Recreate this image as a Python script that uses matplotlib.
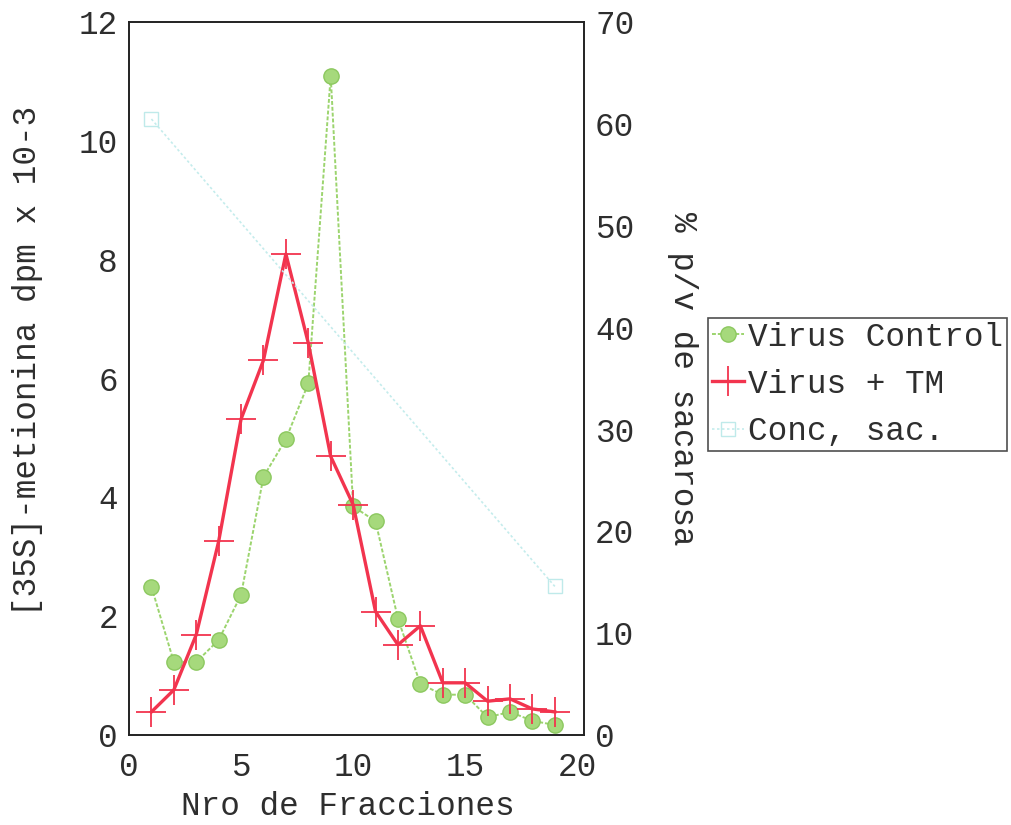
import matplotlib
matplotlib.use("Agg")
import matplotlib.pyplot as plt

# fraction numbers
fracciones = list(range(1, 20))
# [35S]-metionina dpm x 10-3
virus_control = [2.5, 1.23, 1.23, 1.6, 2.36, 4.35, 4.98, 5.92, 11.1, 3.85,
                 3.6, 1.96, 0.86, 0.68, 0.68, 0.3, 0.39, 0.24, 0.17]
virus_tm = [0.39, 0.76, 1.69, 3.26, 5.32, 6.31, 8.1, 6.6, 4.69, 3.88,
            2.08, 1.52, 1.84, 0.88, 0.88, 0.57, 0.61, 0.44, 0.39]
# sucrose gradient (% p/v), right axis
conc_x = [1, 19]
conc_sac = [60.5, 14.6]

plt.rcParams["font.family"] = ["Liberation Mono", "DejaVu Sans Mono"]
plt.rcParams["text.color"] = "#2e2e2e"
plt.rcParams["axes.labelcolor"] = "#2e2e2e"
FS = 23.5

fig = plt.figure(figsize=(10.11, 8.25), dpi=100)
ax = fig.add_axes([0.1276, 0.109, 0.45, 0.864])
ax2 = ax.twinx()

l1, = ax.plot(fracciones, virus_control, color="#9cd46e", lw=1.4, ls=(0, (2, 1)),
              marker="o", ms=11, mfc="#a6d97c", mec="#8cc85f", label="Virus Control")
l2, = ax.plot(fracciones, virus_tm, color="#f2344e", lw=2.4,
              marker="+", ms=21, mew=1.3, label="Virus + TM")
l3, = ax2.plot(conc_x, conc_sac, color="#c4ecec", lw=1.2, ls=(0, (1.5, 1.5)),
               marker="s", ms=10, mfc="none", mec="#bfeaea", label="Conc, sac.")

ax.set_xlim(0, 20.3)
ax.set_ylim(0, 12)
ax2.set_ylim(0, 70)
ax.set_xticks([0, 5, 10, 15, 20])
ax.set_yticks(range(0, 13, 2))
ax2.set_yticks(range(0, 71, 10))
ax.tick_params(axis="x", length=0, labelsize=FS, pad=12, labelcolor="#2e2e2e")
ax.tick_params(axis="y", length=0, labelsize=FS, pad=8, labelcolor="#2e2e2e")
ax2.tick_params(length=0, labelsize=FS, pad=8, labelcolor="#2e2e2e")
for a in (ax, ax2):
    for s in a.spines.values():
        s.set_linewidth(1.2)
        s.set_color("#222222")

ax.set_xlabel("Nro de Fracciones", fontsize=FS)
ax.xaxis.set_label_coords(0.482, -0.079)
ax.set_ylabel("[35S]-metionina dpm x 10-3", fontsize=FS)
ax.yaxis.set_label_coords(-0.19, 0.525)
ax2.set_ylabel("% p/v de sacarosa", fontsize=FS, rotation=-90, labelpad=46)

leg = fig.legend(handles=[l1, l2, l3], loc="upper left",
                 bbox_to_anchor=(0.700, 0.615), fontsize=FS, frameon=True,
                 fancybox=False, edgecolor="#222222", handlelength=1.0,
                 handletextpad=0.1, borderpad=0.12, labelspacing=0.5,
                 borderaxespad=0)
leg.get_frame().set_linewidth(1.2)

fig.savefig("out.png", dpi=100)
